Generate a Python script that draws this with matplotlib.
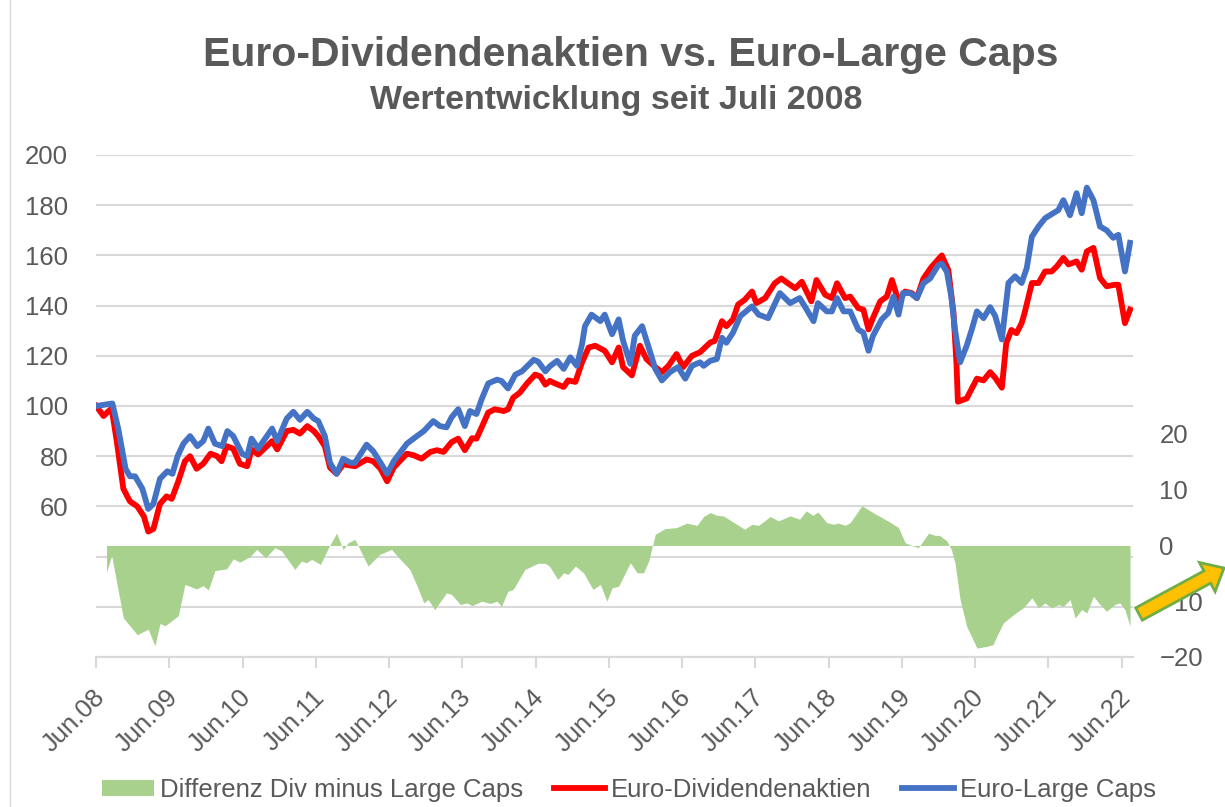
import numpy as np
import matplotlib
matplotlib.use("Agg")
import matplotlib.pyplot as plt
from matplotlib import font_manager
from matplotlib.patches import FancyArrow
from matplotlib.lines import Line2D
from matplotlib.transforms import IdentityTransform, ScaledTranslation

# time in decimal years (Jun.08 = 2008.42)
blue_t = [2008.42, 2008.64, 2008.72, 2008.82, 2008.88, 2008.95, 2009.05, 2009.13, 2009.20, 2009.29,
          2009.39, 2009.46, 2009.53, 2009.61, 2009.70, 2009.80, 2009.88, 2009.95, 2010.04, 2010.14,
          2010.21, 2010.29, 2010.41, 2010.48, 2010.54, 2010.63, 2010.82, 2010.89, 2011.02, 2011.11,
          2011.20, 2011.30, 2011.39, 2011.45, 2011.54, 2011.61, 2011.70, 2011.79, 2011.89, 2011.95,
          2012.11, 2012.20, 2012.30, 2012.39, 2012.48, 2012.66, 2012.75, 2012.89, 2013.02, 2013.11,
          2013.20, 2013.27, 2013.36, 2013.45, 2013.52, 2013.61, 2013.68, 2013.77, 2013.89, 2013.95,
          2014.04, 2014.14, 2014.23, 2014.39, 2014.45, 2014.55, 2014.61, 2014.71, 2014.80, 2014.89,
          2014.98, 2015.05, 2015.09, 2015.18, 2015.30, 2015.36, 2015.46, 2015.55, 2015.61, 2015.71,
          2015.77, 2015.87, 2015.98, 2016.05, 2016.14, 2016.25, 2016.36, 2016.46, 2016.55, 2016.66,
          2016.71, 2016.80, 2016.89, 2016.96, 2017.02, 2017.11, 2017.21, 2017.37, 2017.46, 2017.59,
          2017.75, 2017.89, 2018.02, 2018.09, 2018.21, 2018.27, 2018.39, 2018.46, 2018.53, 2018.62,
          2018.71, 2018.82, 2018.89, 2018.96, 2019.02, 2019.14, 2019.23, 2019.30, 2019.37, 2019.43,
          2019.53, 2019.62, 2019.71, 2019.80, 2019.91, 2019.96, 2020.03, 2020.09, 2020.14, 2020.21,
          2020.30, 2020.37, 2020.44, 2020.53, 2020.62, 2020.69, 2020.78, 2020.87, 2020.96, 2021.05,
          2021.12, 2021.19, 2021.28, 2021.37, 2021.48, 2021.55, 2021.62, 2021.71, 2021.80, 2021.87,
          2021.94, 2022.03, 2022.12, 2022.21, 2022.30, 2022.37, 2022.46, 2022.53]
large_caps = [100, 101, 91, 75, 72, 72, 67, 59, 61, 71,
              74, 73, 80, 85, 88, 84, 86, 91, 85, 84,
              90, 88, 81, 80, 87, 83, 91, 86, 95, 97.7,
              94.5, 97.7, 95, 94, 88, 77.4, 73, 79, 77.4, 77.4,
              84.6, 82, 77.4, 73, 78, 85, 87, 90, 94, 92,
              91.5, 95.5, 98.7, 92, 98, 96.8, 102.7, 109, 110.5, 110,
              107, 112.5, 113.8, 118.4, 117.7, 113.8, 115.8, 118, 114.8, 119.4,
              116, 124.6, 131.8, 136.4, 133.8, 136.4, 128.6, 134.5, 126, 116.8,
              128, 131.8, 121.4, 114.8, 110.2, 113.5, 115.5, 110.9, 116, 117.4,
              116, 118, 118.7, 127.2, 125.2, 129.2, 135.8, 139.7, 136.4, 135,
              145, 141, 143, 139.7, 133.8, 141, 137.7, 137.7, 143, 137.7,
              137.7, 130.5, 129.2, 122, 127.9, 134.5, 137.1, 143.6, 136.4, 145,
              145, 143, 148.9, 150.8, 156, 156.7, 153.4, 143.6, 130.5, 117.4,
              124, 130.5, 137.7, 135, 139.4, 135.8, 126.5, 149, 151.7, 149,
              155, 167.5, 171.5, 174.8, 176.8, 178, 182, 176, 184.8, 176.8,
              187, 182, 171.5, 170, 167, 168.2, 153.6, 165]

red_t = [2008.42, 2008.52, 2008.59, 2008.63, 2008.70, 2008.79, 2008.88, 2008.98, 2009.07, 2009.13,
         2009.20, 2009.29, 2009.38, 2009.45, 2009.54, 2009.63, 2009.70, 2009.79, 2009.88, 2009.98,
         2010.07, 2010.13, 2010.20, 2010.29, 2010.38, 2010.48, 2010.54, 2010.63, 2010.82, 2010.89,
         2011.02, 2011.11, 2011.20, 2011.30, 2011.39, 2011.45, 2011.54, 2011.61, 2011.70, 2011.79,
         2011.95, 2012.11, 2012.20, 2012.30, 2012.39, 2012.48, 2012.66, 2012.75, 2012.86, 2012.98,
         2013.07, 2013.16, 2013.27, 2013.36, 2013.45, 2013.55, 2013.61, 2013.68, 2013.77, 2013.86,
         2013.98, 2014.04, 2014.11, 2014.20, 2014.30, 2014.41, 2014.48, 2014.55, 2014.61, 2014.68,
         2014.80, 2014.86, 2014.96, 2015.05, 2015.14, 2015.23, 2015.36, 2015.46, 2015.55, 2015.61,
         2015.73, 2015.84, 2015.93, 2016.05, 2016.14, 2016.23, 2016.34, 2016.43, 2016.55, 2016.66,
         2016.80, 2016.86, 2016.96, 2017.02, 2017.11, 2017.18, 2017.27, 2017.37, 2017.43, 2017.55,
         2017.68, 2017.77, 2017.86, 2017.96, 2018.05, 2018.18, 2018.25, 2018.37, 2018.46, 2018.53,
         2018.64, 2018.71, 2018.82, 2018.89, 2018.96, 2019.02, 2019.12, 2019.21, 2019.28, 2019.37,
         2019.46, 2019.55, 2019.62, 2019.71, 2019.82, 2019.96, 2020.05, 2020.12, 2020.16, 2020.18,
         2020.30, 2020.44, 2020.53, 2020.62, 2020.69, 2020.78, 2020.84, 2020.91, 2020.98, 2021.05,
         2021.09, 2021.19, 2021.28, 2021.37, 2021.46, 2021.53, 2021.62, 2021.69, 2021.80, 2021.87,
         2021.94, 2022.03, 2022.12, 2022.21, 2022.32, 2022.37, 2022.46, 2022.53]
dividend = [100, 96, 98, 99, 86, 67, 62, 60, 56, 50,
            51, 61, 64, 63, 70, 78, 80, 75, 77, 81,
            80, 78, 84, 83, 77, 76, 82.7, 80.7, 86, 82.7,
            90, 90.5, 89, 92, 90, 88, 84, 75.5, 73, 76.8,
            76, 78.7, 78, 75, 70, 75.5, 81, 80.4, 79, 81.7,
            82.4, 81.7, 85.6, 87, 82.4, 87.2, 87, 91.5, 97.4, 98.7,
            98, 98.7, 103.3, 105.3, 109, 112.5, 111.8, 108.5, 110, 109,
            107.6, 110.2, 109.6, 117.4, 123.3, 124, 122, 117.4, 123.3, 115.5,
            112.2, 124, 118.7, 115.5, 113.5, 116, 120.7, 115.5, 120, 121.4,
            125.3, 125.9, 133.8, 131.8, 134.5, 140.4, 142.3, 145.6, 141, 143,
            148.9, 150.8, 148.9, 146.9, 149.5, 141.7, 150.2, 144.3, 143, 148.9,
            143, 143.6, 139, 138.4, 130.5, 135, 141.7, 143.6, 150.2, 141.7,
            145.6, 145, 143, 150.8, 155.4, 160, 154.1, 137.1, 117.4, 101.7,
            103, 110.9, 110.2, 113.5, 111.2, 107.3, 125, 130.3, 129, 133,
            137, 149, 149, 153.6, 153.6, 155.6, 159, 156.4, 157.6, 154.3,
            161.6, 163, 151, 147.7, 148.3, 148.3, 133, 138.4]

diff_t = [2008.56, 2008.63, 2008.79, 2008.98, 2009.13, 2009.22, 2009.29, 2009.36, 2009.54, 2009.63,
          2009.79, 2009.88, 2009.95, 2010.04, 2010.20, 2010.29, 2010.38, 2010.52, 2010.61, 2010.73,
          2010.86, 2010.95, 2011.13, 2011.22, 2011.29, 2011.36, 2011.48, 2011.59, 2011.70, 2011.79,
          2011.86, 2011.95, 2012.04, 2012.13, 2012.29, 2012.45, 2012.57, 2012.70, 2012.80, 2012.89,
          2012.95, 2013.04, 2013.20, 2013.27, 2013.39, 2013.48, 2013.55, 2013.68, 2013.80, 2013.89,
          2013.95, 2014.04, 2014.11, 2014.27, 2014.45, 2014.55, 2014.61, 2014.72, 2014.80, 2014.86,
          2014.96, 2015.07, 2015.20, 2015.30, 2015.39, 2015.46, 2015.55, 2015.71, 2015.80, 2015.89,
          2015.96, 2016.05, 2016.18, 2016.34, 2016.48, 2016.62, 2016.71, 2016.80, 2016.89, 2016.98,
          2017.16, 2017.27, 2017.37, 2017.46, 2017.62, 2017.73, 2017.89, 2018.02, 2018.11, 2018.20,
          2018.27, 2018.39, 2018.48, 2018.55, 2018.64, 2018.71, 2018.87, 2019.02, 2019.25, 2019.37,
          2019.46, 2019.55, 2019.64, 2019.78, 2019.87, 2019.93, 2020.03, 2020.09, 2020.14, 2020.21,
          2020.30, 2020.44, 2020.57, 2020.66, 2020.71, 2020.80, 2020.94, 2021.07, 2021.19, 2021.28,
          2021.37, 2021.46, 2021.55, 2021.62, 2021.71, 2021.78, 2021.87, 2021.94, 2022.03, 2022.12,
          2022.21, 2022.32, 2022.39, 2022.46, 2022.53]
difference = [-4.8, -1.8, -13, -16, -15, -18, -14, -14.4, -12.6, -7,
              -7.8, -7.2, -8, -4.5, -4.2, -2.4, -3, -2, -0.7, -2.2,
              -0.4, -1, -4.3, -2.8, -3.1, -2.5, -3.4, -0.4, 2.2, -0.7,
              0.5, 1.1, -1.3, -3.7, -1.6, -0.7, -2.5, -4.3, -7.3, -10.3,
              -9.7, -11.5, -8.5, -8.8, -10.6, -10.3, -10.8, -10, -10.4, -10,
              -10.9, -8.2, -7.9, -4.3, -3.2, -3.2, -3.8, -6.1, -4.9, -5.2,
              -3.7, -4.9, -7.9, -7, -10, -7.6, -7.3, -3.1, -4.9, -4.9,
              -2.8, 2, 3, 3.2, 4, 3.6, 5.2, 5.9, 5.4, 5.3,
              3.8, 2.9, 3.8, 3.6, 5.2, 4.4, 5.3, 4.7, 6.2, 5.4,
              6, 4.1, 3.8, 4, 3.6, 4.1, 7.1, 5.9, 4.2, 3.2,
              0.5, 0, -0.4, 2.2, 1.8, 1.8, 0.8, -0.7, -3.1, -9.7,
              -14.5, -18.4, -18.1, -17.8, -16.3, -13.9, -12.4, -11.2, -9.4, -11.2,
              -10.3, -11.2, -10.6, -10.9, -9.7, -13, -11.5, -12.1, -9.1, -10.6,
              -11.8, -10.6, -10.3, -11.5, -14.5]

years = list(range(2008, 2023))
tick_labels = ["Jun.%02d" % (y % 100) for y in years]

GRAY = "#595959"
GRID = "#D9D9D9"

names = {f.name for f in font_manager.fontManager.ttflist}
if "Liberation Sans Narrow" in names:
  body_font, fs = "Liberation Sans Narrow", 21
else:
  body_font, fs = "Liberation Sans", 18.5
plt.rcParams["font.family"] = [body_font, "DejaVu Sans"]

fig = plt.figure(figsize=(12.25, 8.07), dpi=100)
ax = fig.add_axes([96/1225, 150/807, 1037/1225, 502/807])

ax.set_xlim(2008.42, 2022.57)
ax.set_ylim(0, 200)
ax.set_yticks(range(0, 201, 20))
ax.set_yticklabels(["" if v < 60 else str(v) for v in range(0, 201, 20)])
ax.grid(axis="y", color=GRID, lw=1.5)
ax.set_axisbelow(True)
for s in ["top", "right", "left"]:
  ax.spines[s].set_visible(False)
ax.spines["bottom"].set_color(GRID)
ax.spines["bottom"].set_linewidth(1.5)
ax.tick_params(axis="y", length=0, pad=20, labelsize=fs, labelcolor=GRAY)
ax.set_xticks([y + 5/12 for y in years])
ax.set_xticklabels(tick_labels, rotation=45, ha="right", va="center", rotation_mode="anchor")
ax.tick_params(axis="x", length=8, width=1.5, color=GRID, pad=12, labelsize=fs, labelcolor=GRAY)
shift = ScaledTranslation(0.05, -0.09, fig.dpi_scale_trans)
for lab in ax.get_xticklabels():
  lab.set_transform(lab.get_transform() + shift)

# secondary axis for the difference area
ax2 = ax.twinx()
ax2.set_ylim(-20, 70)
ax2.set_yticks([-20, -10, 0, 10, 20])
ax2.tick_params(axis="y", length=0, pad=19, labelsize=fs, labelcolor=GRAY)
for s in ax2.spines.values():
  s.set_visible(False)
area = ax2.fill_between(diff_t, difference, 0, color="#A9D18E", lw=0,
                        label="Differenz Div minus Large Caps")

# third layer for the lines so they sit above the area
ax3 = ax.twinx()
ax3.set_ylim(0, 200)
ax3.yaxis.set_visible(False)
for s in ax3.spines.values():
  s.set_visible(False)
l1, = ax3.plot(red_t, dividend, color="#FF0000", lw=4.2, solid_joinstyle="round",
               label="Euro-Dividendenaktien")
l2, = ax3.plot(blue_t, large_caps, color="#4472C4", lw=4.2, solid_joinstyle="round",
               label="Euro-Large Caps")

fig.text(631/1225, 1 - 55/807, "Euro-Dividendenaktien vs. Euro-Large Caps", ha="center", va="center",
         fontsize=29.5, weight="bold", color=GRAY, family="Liberation Sans")
fig.text(616/1225, 1 - 100/807, "Wertentwicklung seit Juli 2008", ha="center", va="center",
         fontsize=24.5, weight="bold", color=GRAY, family="Liberation Sans")

fig.legend(handles=[area, l1, l2], loc="center", bbox_to_anchor=(629/1225, 17/807), ncol=3,
           frameon=False, fontsize=fs, labelcolor=GRAY, handlelength=2.0, handleheight=0.62,
           handletextpad=0.23, columnspacing=1.2)

# thin border on the left and the orange arrow
fig.add_artist(Line2D([10/1225, 10/1225], [0, 1], transform=fig.transFigure, color=GRID, lw=1))
fig.add_artist(FancyArrow(1139, 193, 85, 46, width=14, head_width=33, head_length=19,
                          length_includes_head=True, fc="#FFC000", ec="#70AD47", lw=2,
                          transform=IdentityTransform()))

fig.savefig("out.png", dpi=100, facecolor="white")
